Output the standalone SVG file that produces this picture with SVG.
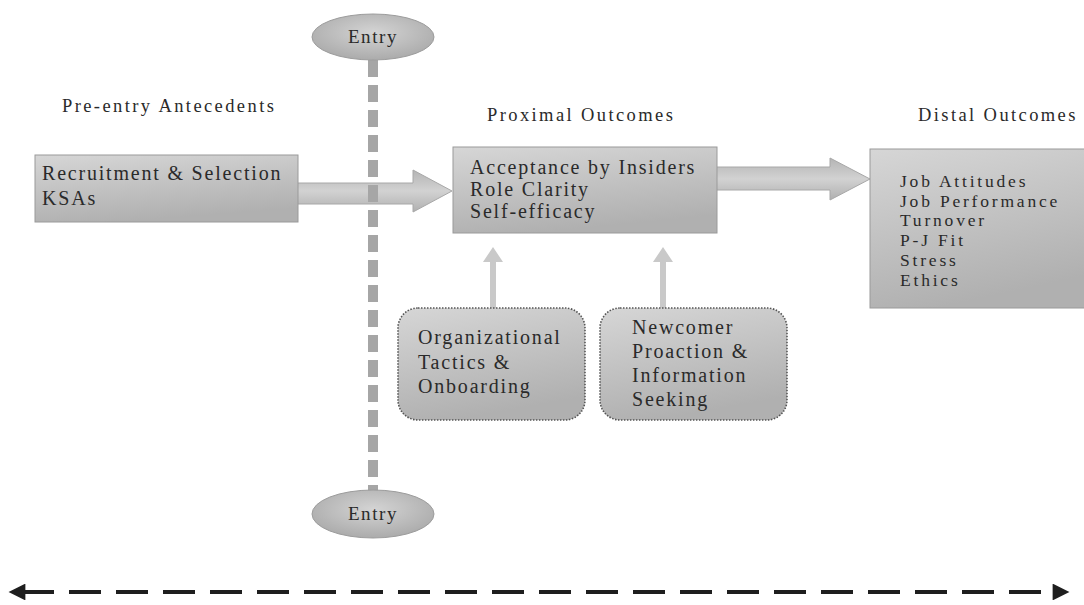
<svg xmlns="http://www.w3.org/2000/svg" width="1084" height="605" viewBox="0 0 1084 605">
  <style>
    text { font-family: "Liberation Serif", "Times New Roman", serif; fill: #2a2a2a; }
    .head { font-size: 18.5px; letter-spacing: 2.4px; }
    .body { font-size: 20px; letter-spacing: 1.8px; }
    .list { font-size: 17.5px; letter-spacing: 2.8px; }
    .tag { font-size: 19px; letter-spacing: 1.6px; }
    .box { fill: url(#boxFill); stroke: #9a9a9a; stroke-width: 1; }
    .soft { fill: url(#boxFill); stroke: #555; stroke-width: 1.6; stroke-dasharray: 1.5 1.5; }
    .oval { fill: url(#ovalFill); stroke: #9c9c9c; stroke-width: 1; }
    .block { fill: url(#arrowFill); stroke: #a8a8a8; stroke-width: 1; }
    .up { fill: #c9c9c9; }
  </style>
  <defs>
    <linearGradient id="boxFill" x1="0" y1="0" x2="0.3" y2="1">
      <stop offset="0" stop-color="#d6d6d6"/>
      <stop offset="1" stop-color="#b0b0b0"/>
    </linearGradient>
    <linearGradient id="arrowFill" x1="0" y1="0" x2="0" y2="1">
      <stop offset="0" stop-color="#b4b4b4"/>
      <stop offset="0.5" stop-color="#d2d2d2"/>
      <stop offset="1" stop-color="#b0b0b0"/>
    </linearGradient>
    <radialGradient id="ovalFill" cx="0.5" cy="0.4" r="0.6">
      <stop offset="0" stop-color="#d4d4d4"/>
      <stop offset="1" stop-color="#ababab"/>
    </radialGradient>
    <marker id="tipEnd" viewBox="0 0 10 10" refX="2" refY="5" markerWidth="6" markerHeight="4.2" orient="auto" markerUnits="strokeWidth">
      <path d="M0,0 L10,5 L0,10 Z" fill="#1e1e1e"/>
    </marker>
    <marker id="tipStart" viewBox="0 0 10 10" refX="8" refY="5" markerWidth="6" markerHeight="4.2" orient="auto" markerUnits="strokeWidth">
      <path d="M10,0 L0,5 L10,10 Z" fill="#1e1e1e"/>
    </marker>
  </defs>

  <rect width="1084" height="605" fill="#ffffff"/>

  <!-- column headings -->
  <text class="head" x="62" y="112">Pre-entry Antecedents</text>
  <text class="head" x="487" y="121">Proximal Outcomes</text>
  <text class="head" x="918" y="121">Distal Outcomes</text>

  <g id="connectors">
    <!-- block arrow: antecedents to proximal outcomes -->
    <polygon class="block" points="296,183 413,183 413,170 452,191 413,212 413,204 296,204"/>
    <!-- block arrow: proximal to distal outcomes -->
    <polygon class="block" points="716,167 830,167 830,158 870,179 830,200 830,190 716,190"/>
    <!-- upward influence arrows -->
    <polygon class="up" points="490,308 490,262 483,262 493,247 503,262 496,262 496,308"/>
    <polygon class="up" points="660,308 660,262 653,262 663,247 673,262 666,262 666,308"/>
    <!-- entry boundary -->
    <line x1="373" y1="60" x2="373" y2="491" stroke="#a6a6a6" stroke-width="10" stroke-dasharray="17 8"/>
    <!-- time axis -->
    <line x1="22" y1="592" x2="1056" y2="592" stroke="#1e1e1e" stroke-width="4" stroke-dasharray="32 15" marker-start="url(#tipStart)" marker-end="url(#tipEnd)"/>
  </g>

  <g id="entry-top">
    <ellipse class="oval" cx="373" cy="37" rx="61" ry="23"/>
    <text class="tag" x="373" y="43" text-anchor="middle">Entry</text>
  </g>

  <g id="entry-bottom">
    <ellipse class="oval" cx="373" cy="514" rx="61" ry="24"/>
    <text class="tag" x="373" y="520" text-anchor="middle">Entry</text>
  </g>

  <g id="antecedents">
    <rect class="box" x="35" y="155" width="263" height="67"/>
    <text class="body" x="42" y="180">Recruitment &amp; Selection</text>
    <text class="body" x="42" y="205">KSAs</text>
  </g>

  <g id="proximal">
    <rect class="box" x="453" y="147" width="264" height="86"/>
    <text class="body" x="470" y="174">Acceptance by Insiders</text>
    <text class="body" x="470" y="196">Role Clarity</text>
    <text class="body" x="470" y="218">Self-efficacy</text>
  </g>

  <g id="distal">
    <rect class="box" x="870" y="149" width="220" height="159"/>
    <text class="list" x="900" y="187">Job Attitudes</text>
    <text class="list" x="900" y="207">Job Performance</text>
    <text class="list" x="900" y="226">Turnover</text>
    <text class="list" x="900" y="246">P-J Fit</text>
    <text class="list" x="900" y="266">Stress</text>
    <text class="list" x="900" y="286">Ethics</text>
  </g>

  <g id="org-tactics">
    <rect class="soft" x="398" y="308" width="187" height="112" rx="20" ry="20"/>
    <text class="body" x="418" y="344">Organizational</text>
    <text class="body" x="418" y="369">Tactics &amp;</text>
    <text class="body" x="418" y="393">Onboarding</text>
  </g>

  <g id="newcomer">
    <rect class="soft" x="600" y="308" width="187" height="112" rx="20" ry="20"/>
    <text class="body" x="632" y="334">Newcomer</text>
    <text class="body" x="632" y="358">Proaction &amp;</text>
    <text class="body" x="632" y="382">Information</text>
    <text class="body" x="632" y="406">Seeking</text>
  </g>
</svg>
